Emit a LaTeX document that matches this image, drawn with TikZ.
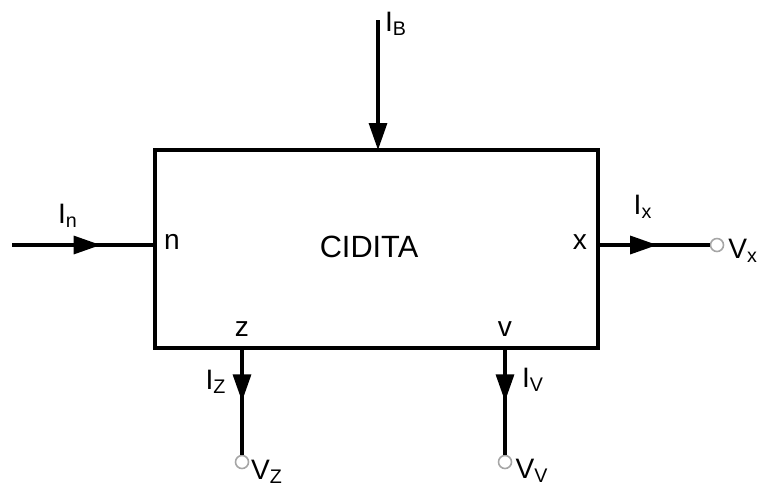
\documentclass[tikz,border=0pt]{standalone}
\usepackage{fontspec}
\setmainfont{Liberation Sans}
\usetikzlibrary{arrows.meta,decorations.markings}

\tikzset{
  wire/.style={line width=1.8pt},
  flowtip/.tip={Triangle[length=0.54cm,width=0.36cm]},
  midarrow/.style={wire,postaction={decorate},
    decoration={markings,mark=at position #1 with {\arrow{flowtip}}}},
  term/.style={circle,draw=gray!70,fill=white,line width=0.9pt,inner sep=0pt,minimum size=0.26cm},
  lbl/.style={font=\fontsize{16}{18}\selectfont,inner sep=1pt}
}

\begin{document}
\begin{tikzpicture}[x=0.02cm,y=-0.02cm,line join=miter]
  \useasboundingbox (0,0) rectangle (760,488);
  % block
  \coordinate (NW) at (155,150);
  \coordinate (SE) at (598,348);
  \draw[wire] (NW) rectangle (SE);
  \node[font=\fontsize{17.5}{20}\selectfont] (cidita) at (369,247) {CIDITA};
  % pins on the block
  \coordinate (pn) at (155,245);
  \coordinate (pb) at (378,150);
  \coordinate (px) at (598,245);
  \coordinate (pz) at (242,348);
  \coordinate (pv) at (505,348);
  % free ends and terminals
  \coordinate (in) at (12,245);
  \coordinate (bias) at (378,20);
  \node[term] (vx) at (717,245) {};
  \node[term] (vz) at (242,462) {};
  \node[term] (vv) at (505,462) {};
  % connectors
  \draw[midarrow=0.62] (in) -- (pn);
  \draw[wire,-flowtip] (bias) -- (pb);
  \draw[midarrow=0.53] (px) -- (vx);
  \draw[midarrow=0.5] (pz) -- (vz);
  \draw[midarrow=0.5] (pv) -- (vv);
  % labels
  \node[lbl] (ln) at (172,242) {n};
  \node[lbl] (lx) at (580,242) {x};
  \node[lbl] (lz) at (242,329) {z};
  \node[lbl] (lv) at (505,329) {v};
  \node[lbl] (lIn) at (68,216) {I\textsubscript{n}};
  \node[lbl] (lIB) at (396,24) {I\textsubscript{B}};
  \node[lbl] (lIx) at (643,207) {I\textsubscript{x}};
  \node[lbl] (lIz) at (216,382) {I\textsubscript{Z}};
  \node[lbl] (lIv) at (533,380) {I\textsubscript{V}};
  \node[lbl] (lVx) at (743,251) {V\textsubscript{x}};
  \node[lbl] (lVz) at (267,472) {V\textsubscript{Z}};
  \node[lbl] (lVv) at (532,471) {V\textsubscript{V}};
\end{tikzpicture}
\end{document}
